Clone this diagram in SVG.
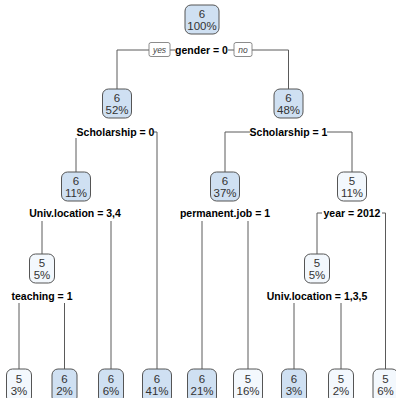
<svg xmlns="http://www.w3.org/2000/svg" width="396" height="398" viewBox="0 0 396 398">
<style>
.c6{fill:#cfe0f2;stroke:#555;stroke-width:1}
.c5{fill:#f3f8fd;stroke:#555;stroke-width:1}
.n{font-family:"Liberation Sans",Arial,sans-serif;font-size:11.5px;fill:#333;text-anchor:middle}
.s{font-family:"Liberation Sans",Arial,sans-serif;font-size:10.5px;font-weight:bold;fill:#000;text-anchor:middle}
.yn{fill:#fff;stroke:#6e6e6e;stroke-width:0.8}
.ynt{font-family:"Liberation Sans",Arial,sans-serif;font-size:8.5px;font-style:italic;fill:#444;text-anchor:middle}
#connectors path{fill:none;stroke:#5a5a5a;stroke-width:1}
</style>
<rect width="396" height="398" fill="#fff"/>
<g id="connectors">
<path d="M149,50 H117 V89"/>
<path d="M170,50 H175"/>
<path d="M228,50 H234"/>
<path d="M252,50 H288.5 V89"/>
<path d="M76,138 V172"/>
<path d="M154,132 H157 V369"/>
<path d="M250,132 H225 V172"/>
<path d="M327,132 H352 V172"/>
<path d="M42,221 V254"/>
<path d="M111,221 V369"/>
<path d="M19,303 V369"/>
<path d="M64.5,303 V369"/>
<path d="M202,221 V369"/>
<path d="M248,221 V369"/>
<path d="M322,213 H317 V254"/>
<path d="M382,213 H385.5 V369"/>
<path d="M294,303 V369"/>
<path d="M341,303 V369"/>
</g>
<g id="n1"><rect class="c6" x="185" y="5" width="34" height="29" rx="6"/><text class="n" x="202" y="18">6</text><text class="n" x="202" y="30">100%</text>
<text class="s" x="201.5" y="54">gender = 0</text>
<rect class="yn" x="149" y="42.5" width="21" height="14" rx="2"/><text class="ynt" x="159.5" y="52.5">yes</text>
<rect class="yn" x="234" y="42.5" width="18" height="14" rx="2"/><text class="ynt" x="243" y="52.5">no</text></g>
<g id="n2"><rect class="c6" x="102.5" y="89" width="29" height="29" rx="6"/><text class="n" x="117" y="102">6</text><text class="n" x="117" y="114">52%</text>
<text class="s" x="115.5" y="136">Scholarship = 0</text></g>
<g id="n3"><rect class="c6" x="274" y="89" width="29" height="29" rx="6"/><text class="n" x="288.5" y="102">6</text><text class="n" x="288.5" y="114">48%</text>
<text class="s" x="288.5" y="136">Scholarship = 1</text></g>
<g id="n4"><rect class="c6" x="61.5" y="172" width="29" height="29" rx="6"/><text class="n" x="76" y="185">6</text><text class="n" x="76" y="197">11%</text>
<text class="s" x="75" y="217">Univ.location = 3,4</text></g>
<g id="n6"><rect class="c6" x="210.5" y="172" width="29" height="29" rx="6"/><text class="n" x="225" y="185">6</text><text class="n" x="225" y="197">37%</text>
<text class="s" x="225" y="217">permanent.job = 1</text></g>
<g id="n7"><rect class="c5" x="337.5" y="172" width="29" height="29" rx="6"/><text class="n" x="352" y="185">5</text><text class="n" x="352" y="197">11%</text>
<text class="s" x="352" y="217">year = 2012</text></g>
<g id="n8"><rect class="c5" x="29.5" y="254" width="25" height="29" rx="6"/><text class="n" x="42" y="267">5</text><text class="n" x="42" y="279">5%</text>
<text class="s" x="42" y="300">teaching = 1</text></g>
<g id="n14"><rect class="c5" x="304.5" y="254" width="25" height="29" rx="6"/><text class="n" x="317" y="267">5</text><text class="n" x="317" y="279">5%</text>
<text class="s" x="317" y="300">Univ.location = 1,3,5</text></g>
<g id="l1"><rect class="c5" x="6.5" y="369" width="25" height="34" rx="6"/><text class="n" x="19" y="383">5</text><text class="n" x="19" y="395">3%</text></g>
<g id="l2"><rect class="c6" x="52" y="369" width="25" height="34" rx="6"/><text class="n" x="64.5" y="383">6</text><text class="n" x="64.5" y="395">2%</text></g>
<g id="l3"><rect class="c6" x="98.5" y="369" width="25" height="34" rx="6"/><text class="n" x="111" y="383">6</text><text class="n" x="111" y="395">6%</text></g>
<g id="l4"><rect class="c6" x="142.5" y="369" width="29" height="34" rx="6"/><text class="n" x="157" y="383">6</text><text class="n" x="157" y="395">41%</text></g>
<g id="l5"><rect class="c6" x="187.5" y="369" width="29" height="34" rx="6"/><text class="n" x="202" y="383">6</text><text class="n" x="202" y="395">21%</text></g>
<g id="l6"><rect class="c5" x="233.5" y="369" width="29" height="34" rx="6"/><text class="n" x="248" y="383">5</text><text class="n" x="248" y="395">16%</text></g>
<g id="l7"><rect class="c6" x="281.5" y="369" width="25" height="34" rx="6"/><text class="n" x="294" y="383">6</text><text class="n" x="294" y="395">3%</text></g>
<g id="l8"><rect class="c5" x="328.5" y="369" width="25" height="34" rx="6"/><text class="n" x="341" y="383">5</text><text class="n" x="341" y="395">2%</text></g>
<g id="l9"><rect class="c5" x="373" y="369" width="25" height="34" rx="6"/><text class="n" x="385.5" y="383">5</text><text class="n" x="385.5" y="395">6%</text></g>
</svg>
